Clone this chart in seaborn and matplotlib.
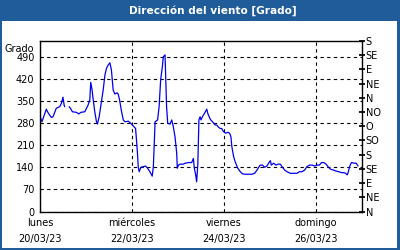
import numpy as np
import pandas as pd
import matplotlib
matplotlib.use("Agg")
import matplotlib.pyplot as plt
from matplotlib.patches import Rectangle
import seaborn as sns

sns.set_theme(style="white")
plt.rcParams['font.family'] = ['DejaVu Sans']

title = "Dirección del viento [Grado]"
y_label = "Grado"

# hours since 20/03/23 00:00, and wind direction in degrees
hours_a = [0.4, 1.0, 3.3, 4.2, 5.9, 6.8, 8.5, 10.3, 11.2, 12.0, 12.6, 12.9]
values_a = [295, 284, 324, 313, 298, 300, 327, 332, 343, 362, 337, 332]

hours_b = [15.2, 15.9, 16.9, 19.0, 20.3, 21.3, 23.4, 25.1, 26.0, 26.5, 27.2, 27.8,
           28.6, 29.5, 30.0, 30.9, 32.1, 33.0, 33.9, 34.7, 35.6, 36.5, 37.3, 38.2,
           39.1, 40.2, 40.8, 41.5, 42.6, 43.5, 44.4, 46.1, 47.5, 48.7, 49.9, 50.4,
           50.9, 51.3, 51.8, 52.7, 53.9, 55.1, 56.2, 57.4, 58.6, 59.2, 59.7, 60.1,
           61.4, 62.2, 63.0, 63.9, 64.4, 65.3, 65.6, 66.1, 66.7, 67.9, 68.8, 69.6,
           70.5, 71.4, 71.7, 72.3, 73.2, 74.9, 75.8, 77.5, 79.2, 80.1, 80.6, 81.3,
           81.8, 82.4, 82.7, 83.0, 83.6, 84.1, 84.8, 85.9, 87.1, 87.6, 88.9, 90.1,
           91.5, 92.3, 93.2, 94.1, 94.9, 95.8, 97.0, 98.1, 99.0, 99.7, 100.2, 101.1,
           101.9, 103.3, 104.6, 105.8, 107.2, 108.9, 110.6, 112.1, 113.3, 114.2,
           115.0, 116.2, 117.3, 118.5, 119.4, 120.3, 120.8, 122.0, 123.2, 124.3,
           125.5, 126.4, 127.8, 129.0, 130.7, 132.5, 134.2, 135.5, 136.8, 138.2,
           139.4, 140.7, 142.1, 143.5, 144.7, 145.9, 147.0, 148.2, 149.4, 150.4,
           151.7, 153.4, 154.6, 156.0, 157.5, 158.7, 159.6, 160.4, 160.9, 161.6,
           162.2, 162.7, 163.9, 165.1, 165.8, 166.1]
values_b = [332, 327, 316, 314, 309, 314, 316, 337, 353, 409, 385, 353,
            316, 284, 277, 300, 348, 385, 432, 453, 464, 471, 448, 385,
            372, 376, 372, 355, 316, 290, 284, 286, 279, 271, 263, 226,
            184, 142, 126, 140, 142, 144, 137, 126, 112, 142, 226, 284,
            290, 332, 416, 459, 490, 496, 438, 332, 279, 277, 290, 269,
            237, 184, 137, 147, 150, 150, 153, 155, 155, 168, 137, 116,
            94, 147, 226, 290, 300, 290, 300, 311, 324, 311, 292, 284,
            274, 274, 267, 263, 263, 253, 248, 251, 248, 237, 205, 174,
            158, 137, 126, 119, 118, 118, 118, 121, 131, 140,
            147, 147, 140, 144, 153, 161, 147, 153, 147, 150,
            150, 142, 131, 126, 121, 121, 121, 126, 126, 131,
            142, 147, 147, 144, 147, 147, 155, 155, 150, 142,
            134, 131, 128, 126, 123, 123, 121, 116, 123, 140,
            150, 155, 153, 153, 147, 144]

left_ticks = [0, 70, 140, 210, 280, 350, 420, 490]
right_ticks = [0, 45, 90, 135, 180, 225, 270, 315, 360, 405, 450, 495, 540]
right_labels = ["N", "NE", "E", "SE", "S", "SO", "O", "NO", "N", "NE", "E", "SE", "S"]
x_major = [0, 48, 96, 144]
x_minor = [24, 72, 120, 168]
day_names = ["lunes", "miércoles", "viernes", "domingo"]
dates = ["20/03/23", "22/03/23", "24/03/23", "26/03/23"]

df = pd.concat([
    pd.DataFrame({"h": hours_a, "v": values_a, "seg": 0}),
    pd.DataFrame({"h": hours_b, "v": values_b, "seg": 1}),
])

fig = plt.figure(figsize=(4, 2.5), dpi=100)
fig.patch.set_facecolor("#1f5c99")
fig.patches.append(Rectangle((2/400, 2/250), 395/400, 227/250, transform=fig.transFigure,
                             facecolor="white", edgecolor="none", zorder=-10))
fig.text(213/400, 1 - 10.5/250, title, color="white", fontsize=7.6, fontweight="bold",
         ha="center", va="center")

ax = fig.add_axes([40/400, 1 - 211.5/250, 321.7/400, 170.5/250])
ax.set_facecolor("white")
sns.lineplot(data=df, x="h", y="v", units="seg", estimator=None, color="#0000ee",
             linewidth=0.9, ax=ax)
ax.set_xlim(0, 168)
ax.set_ylim(0, 540)
ax.set_xlabel("")
ax.set_ylabel("")
ax.set_yticks(left_ticks)
ax.set_yticklabels([str(t) for t in left_ticks], fontsize=7, color="black")
ax.set_xticks(x_major)
ax.set_xticks(x_minor, minor=True)
ax.set_xticklabels([f"{d}\n{t}" for d, t in zip(day_names, dates)], fontsize=7,
                   color="black", linespacing=1.75)
ax.tick_params(axis="y", which="major", length=0, pad=4)
ax.tick_params(axis="x", which="both", direction="in", length=3, color="black", pad=5)
ax.grid(True, which="major", color="black", linestyle=(0, (3, 3)), linewidth=0.8)
for s in ax.spines.values():
    s.set_color("black")
    s.set_linewidth(1)
    s.set_visible(True)
ax.text(-0.02, 0.985, y_label, transform=ax.transAxes, ha="right", va="top",
        fontsize=7, color="black")

ax2 = ax.twinx()
ax2.set_ylim(0, 540)
ax2.set_yticks(right_ticks)
ax2.set_yticklabels(right_labels, fontsize=7, color="black")
ax2.tick_params(axis="y", direction="inout", length=4, color="black", pad=1)
ax2.grid(False)
for s in ax2.spines.values():
    s.set_visible(False)

fig.savefig("out.png", dpi=100, facecolor=fig.get_facecolor())
